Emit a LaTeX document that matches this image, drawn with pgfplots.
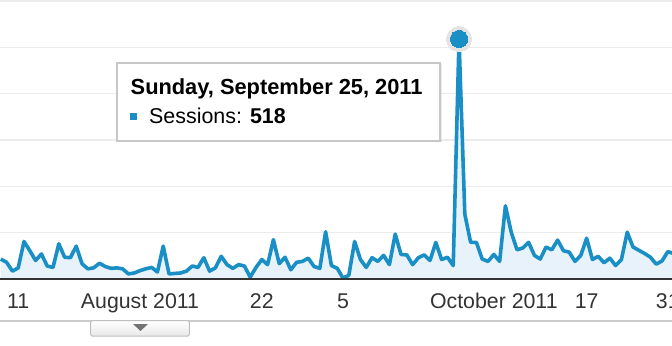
\documentclass[border=0pt]{standalone}
\usepackage{pgfplots}
\pgfplotsset{compat=1.18}
\usepackage{pgfplotstable}
\usepackage{fontspec}
\setmainfont{Liberation Sans}
\definecolor{gaBlue}{HTML}{1A8FC6}
\definecolor{gaFill}{HTML}{E8F2FA}
\definecolor{gridgray}{HTML}{ECECEC}
\definecolor{labelgray}{HTML}{333333}
\definecolor{halo}{HTML}{E4E4E4}
\pgfplotstableread{
d v
-24 43
-23 36
-22 17
-21 24
-20 81
-19 61
-18 40
-17 54
-16 28
-15 25
-14 76
-13 47
-12 46
-11 71
-10 33
-9 22
-8 24
-7 34
-6 27
-5 23
-4 24
-3 22
-2 11
-1 13
0 18
1 22
2 25
3 15
4 71
5 11
6 12
7 13
8 17
9 28
10 25
11 46
12 17
13 24
14 49
15 31
16 23
17 31
18 28
19 4
20 25
21 42
22 31
23 85
24 33
25 47
26 20
27 36
28 38
29 45
30 27
31 23
32 102
33 29
34 23
35 2
36 8
37 81
38 42
39 25
40 46
41 38
42 51
43 31
44 97
45 53
46 52
47 31
48 46
49 52
50 40
51 79
52 42
53 47
54 29
55 518
56 140
57 79
58 79
59 43
60 38
61 53
62 38
63 158
64 101
65 63
66 67
67 79
68 51
69 43
70 69
71 63
72 84
73 61
74 58
75 38
76 51
77 88
78 42
79 49
80 35
81 45
82 29
83 42
84 101
85 69
86 62
87 55
88 47
89 32
90 39
91 59
92 55
}\sessions
\begin{document}
\begin{tikzpicture}
\begin{axis}[
  scale only axis, width=672bp, height=278bp,
  at={(0,0)}, anchor=south west,
  xmin=-24.14, xmax=91.72, ymin=0, ymax=600,
  axis line style={draw=none},
  major tick length=0pt,
  ytick={100,200,300,400,500,600}, yticklabels={},
  ymajorgrids, grid style={color=gridgray, line width=1.6bp},
  xtick={-21,0,21,35,61,77,91},
  xticklabels={11,August 2011,22,5,October 2011,17,31},
  xticklabel style={font=\fontsize{21.4}{24}\selectfont, text=labelgray, anchor=base, yshift=-29bp},
  clip=false,
]
\addplot[draw=none, fill=gaFill] table[x=d, y=v] {\sessions} \closedcycle;
\addplot[gaBlue, line width=3.6bp, line join=round] table[x=d, y=v] {\sessions};
\addplot[halo, only marks, mark=*, mark size=12.5bp, mark options={draw=halo, fill=halo, line width=0pt}] coordinates {(55,518)};
\addplot[gaBlue, only marks, mark=*, mark size=8.6bp, mark options={draw=gaBlue, fill=gaBlue, line width=0pt}] coordinates {(55,518)};
\end{axis}
% baseline
\draw[labelgray, line width=2.3bp] (0,0) -- (672bp,0);
% bottom line and tab button
\draw[black!20, line width=1.8bp] (0,-41.7bp) -- (672bp,-41.7bp);
\draw[draw=black!25, line width=1bp, top color=white, bottom color=black!9, rounded corners=2bp] (90.7bp,-41.7bp) rectangle (189.3bp,-57.2bp);
\fill[black!55] (133bp,-45bp) -- (148bp,-45bp) -- (140.5bp,-52bp) -- cycle;
% tooltip
\fill[black, opacity=0.07] (118.5bp,136.5bp) rectangle (441.5bp,214.5bp);
\draw[fill=white, draw=black!22, line width=1.2bp] (117bp,138bp) rectangle (440bp,216bp);
\node[anchor=base west, inner sep=0pt, font=\bfseries\fontsize{21.9}{24}\selectfont] at (130.5bp,184bp) {Sunday, September 25, 2011};
\fill[gaBlue] (130bp,159bp) rectangle (137.3bp,166.3bp);
\node[anchor=base west, inner sep=0pt, font=\fontsize{21.5}{24}\selectfont] at (149bp,155.7bp) {Sessions: \textbf{518}};
\pgfresetboundingbox
\path (0,-67bp) rectangle (672bp,279bp);
\end{tikzpicture}
\end{document}
